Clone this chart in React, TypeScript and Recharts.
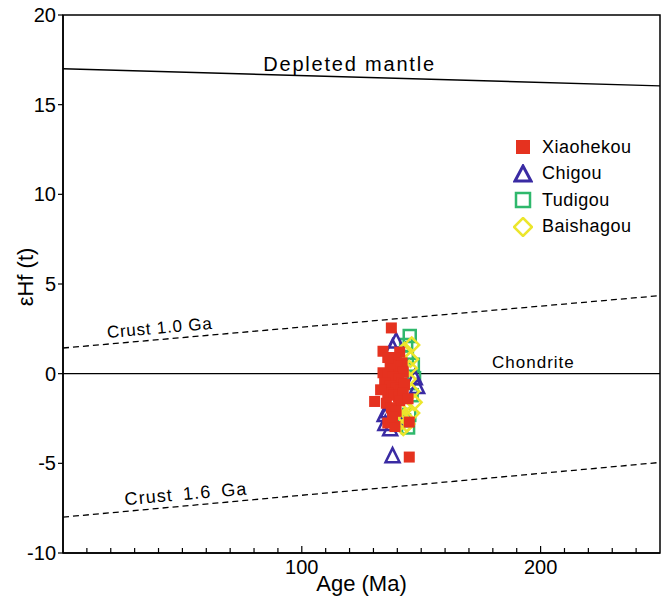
import React from 'react';
import { ScatterChart, Scatter, XAxis, YAxis, ReferenceLine, ReferenceArea, ReferenceDot, Legend } from 'recharts';

const FONT = '"Liberation Sans", Arial, sans-serif';
const RED = '#e5321f';
const BLUE = '#3a2ba3';
const GREEN = '#2fb86c';
const YELLOW = '#ece62c';

// age (Ma), εHf(t)
const xiaohekou = [
  [137.5, 2.55], [134, 1.25], [141, 1.2], [139, 0.9], [142, 0.6], [140, 0.4], [137, 0.5], [142.5, 0.1],
  [134, 0.05], [136, -0.1], [138, -0.2], [140.5, -0.3], [142, -0.5], [134.7, -0.5], [137, -0.7],
  [139.5, -0.8], [141.5, -0.9], [143, -0.6], [136, -1.1], [138.5, -1.2], [140.5, -1.3], [142.5, -1.1],
  [130.5, -1.55], [135.4, -1.65], [141, -1.5], [144.5, -1.4], [137.5, -1.9], [139.5, -2.1],
  [136, -2.75], [139, -2.95], [145, -2.7], [145, -4.65], [138, -2.4], [133, -0.9], [136, 0.9],
].map(([age, ehf]) => ({ age, ehf }));

const chigou = [
  [139.5, 1.8], [138, 1.45], [147.3, -0.25], [148.3, -0.75], [136, -2.1], [135, -2.8],
  [137, -3.1], [138, -4.6], [134.7, -2.3], [140, -2.5],
].map(([age, ehf]) => ({ age, ehf }));

const tudigou = [
  [145.2, 2.1], [143.7, 1.6], [146.5, 0.5], [147, -0.25], [146, -1.2], [145, -2.3],
  [144.5, -3.0], [142.8, -2.6], [144, 0.9],
].map(([age, ehf]) => ({ age, ehf }));

const baishagou = [
  [143, 1.3], [145.5, 0.8], [146, 1.6], [144.5, -0.3], [146, -1.0], [143.5, -1.9], [141, -2.0],
  [143, -2.4], [146, -2.2], [141.5, -2.7], [147, -1.6], [142.5, -3.0], [145, 0.3], [144, -2.8],
].map(([age, ehf]) => ({ age, ehf }));

// evolution lines: [age at left, εHf], [age at right, εHf]
const depletedMantle = [{ x: 0, y: 17.0 }, { x: 250, y: 16.05 }];
const crust10 = [{ x: 0, y: 1.43 }, { x: 250, y: 4.35 }];
const crust16 = [{ x: 0, y: -8.0 }, { x: 250, y: -4.95 }];

const xTicks = [10, 20, 30, 40, 50, 60, 70, 80, 90, 100, 110, 120, 130, 140, 150, 160, 170, 180, 190, 200, 210, 220, 230, 240];
const yTicks = [-10, -5, 0, 5, 10, 15, 20];

const lineLabels = [
  { text: 'Depleted mantle', age: 120, ehf: 17.25, size: 20, spacing: 1.8, word: 0, angle: 0 },
  { text: 'Crust 1.0 Ga', age: 40.5, ehf: 2.55, size: 17, spacing: 0.8, word: 0, angle: -5 },
  { text: 'Chondrite', age: 197, ehf: 0.65, size: 17, spacing: 1, word: 0, angle: 0 },
  { text: 'Crust 1.6 Ga', age: 51.5, ehf: -6.7, size: 18, spacing: 1.1, word: 4, angle: -5 },
];

const SquareFilled = ({ cx, cy }: any) => (
  <rect x={cx - 5.5} y={cy - 5.5} width={11} height={11} fill={RED} />
);
const TriangleOpen = ({ cx, cy }: any) => (
  <polygon points={`${cx},${cy - 8} ${cx - 7},${cy + 6} ${cx + 7},${cy + 6}`} fill="none" stroke={BLUE} strokeWidth={2.5} />
);
const SquareOpen = ({ cx, cy }: any) => (
  <rect x={cx - 6} y={cy - 6} width={12} height={12} fill="none" stroke={GREEN} strokeWidth={2.5} />
);
const DiamondOpen = ({ cx, cy }: any) => (
  <polygon points={`${cx},${cy - 7.5} ${cx + 7.5},${cy} ${cx},${cy + 7.5} ${cx - 7.5},${cy}`} fill="none" stroke={YELLOW} strokeWidth={2.5} />
);

const XTick = ({ x, y, payload }: any) => {
  const major = payload.value % 100 === 0;
  return (
    <g>
      <line x1={x} x2={x} y1={y} y2={y - (major ? 7 : 5)} stroke="#000" strokeWidth={1.2} />
      {major && (
        <text x={x} y={y + 21} textAnchor="middle" fontSize={20} fontFamily={FONT} fill="#000">{payload.value}</text>
      )}
    </g>
  );
};

const XLabel = ({ viewBox }: any) => (
  <text x={viewBox.x + viewBox.width / 2} y={viewBox.y + 38} textAnchor="middle" fontSize={22} fontFamily={FONT} fill="#000">Age (Ma)</text>
);

const YLabel = ({ viewBox }: any) => {
  const cx = viewBox.x + 25;
  const cy = viewBox.y + viewBox.height / 2 - 7;
  return (
    <text transform={`translate(${cx},${cy}) rotate(-90)`} textAnchor="middle" dominantBaseline="central" fontSize={22} fontFamily={FONT} fill="#000">εHf (t)</text>
  );
};

const LineText = ({ viewBox, item }: any) => {
  const cx = viewBox.x + (viewBox.width || 0) / 2;
  const cy = viewBox.y + (viewBox.height || 0) / 2;
  return (
    <text transform={`translate(${cx},${cy}) rotate(${item.angle})`} textAnchor="middle" dominantBaseline="central"
      fontSize={item.size} letterSpacing={item.spacing} wordSpacing={item.word} fontFamily={FONT} fill="#000">{item.text}</text>
  );
};

const legendItems = [
  { name: 'Xiaohekou', icon: <rect x={3} y={3} width={14} height={14} fill={RED} /> },
  { name: 'Chigou', icon: <polygon points="10,2 2,17 18,17" fill="none" stroke={BLUE} strokeWidth={3} /> },
  { name: 'Tudigou', icon: <rect x={3} y={3} width={14} height={14} fill="none" stroke={GREEN} strokeWidth={2.5} /> },
  { name: 'Baishagou', icon: <polygon points="10,1 19,10 10,19 1,10" fill="none" stroke={YELLOW} strokeWidth={2.5} /> },
];

const LegendBox = () => (
  <div style={{ fontFamily: FONT, fontSize: 18, color: '#000' }}>
    {legendItems.map((it) => (
      <div key={it.name} style={{ display: 'flex', alignItems: 'center', height: 26.5 }}>
        <svg width={20} height={20} style={{ marginRight: 9 }}>{it.icon}</svg>
        <span style={{ letterSpacing: 0.5 }}>{it.name}</span>
      </div>
    ))}
  </div>
);

export default function App() {
  return (
    <div style={{ position: 'absolute', left: 0, top: 0, background: '#fff' }}>
      <ScatterChart width={665} height={603} margin={{ top: 15, right: 5, bottom: 0, left: 0 }}>
        <XAxis type="number" dataKey="age" domain={[0, 250]} ticks={xTicks} interval={0} height={50}
          tickSize={0} tickMargin={0} tickLine={false} tick={<XTick />}
          axisLine={{ stroke: '#000', strokeWidth: 1.5 }} label={<XLabel />} />
        <YAxis type="number" dataKey="ehf" domain={[-10, 20]} ticks={yTicks} interval={0} width={63}
          tickSize={5} tickMargin={2} tickLine={{ stroke: '#000', strokeWidth: 1.2 }}
          tick={{ fill: '#000', fontSize: 20, fontFamily: FONT }}
          axisLine={{ stroke: '#000', strokeWidth: 1.5 }} label={<YLabel />} />
        <ReferenceArea x1={0} x2={250} y1={-10} y2={20} fill="none" stroke="#000" strokeWidth={1.5} />
        <ReferenceLine y={0} stroke="#000" strokeWidth={1.2} />
        <ReferenceLine segment={depletedMantle} stroke="#000" strokeWidth={1.4} />
        <ReferenceLine segment={crust10} stroke="#000" strokeWidth={1.3} strokeDasharray="6 4" />
        <ReferenceLine segment={crust16} stroke="#000" strokeWidth={1.3} strokeDasharray="6 4" />
        {lineLabels.map((l) => (
          <ReferenceDot key={l.text} x={l.age} y={l.ehf} r={0} fill="none" stroke="none"
            label={<LineText item={l} />} />
        ))}
        <Scatter name="Tudigou" data={tudigou} shape={<SquareOpen />} isAnimationActive={false} />
        <Scatter name="Chigou" data={chigou} shape={<TriangleOpen />} isAnimationActive={false} />
        <Scatter name="Baishagou" data={baishagou} shape={<DiamondOpen />} isAnimationActive={false} />
        <Scatter name="Xiaohekou" data={xiaohekou} shape={<SquareFilled />} isAnimationActive={false} />
        <Legend layout="vertical" align="center" verticalAlign="middle" content={<LegendBox />}
          wrapperStyle={{ left: 513, top: 134, width: 150, height: 110 }} />
      </ScatterChart>
    </div>
  );
}
